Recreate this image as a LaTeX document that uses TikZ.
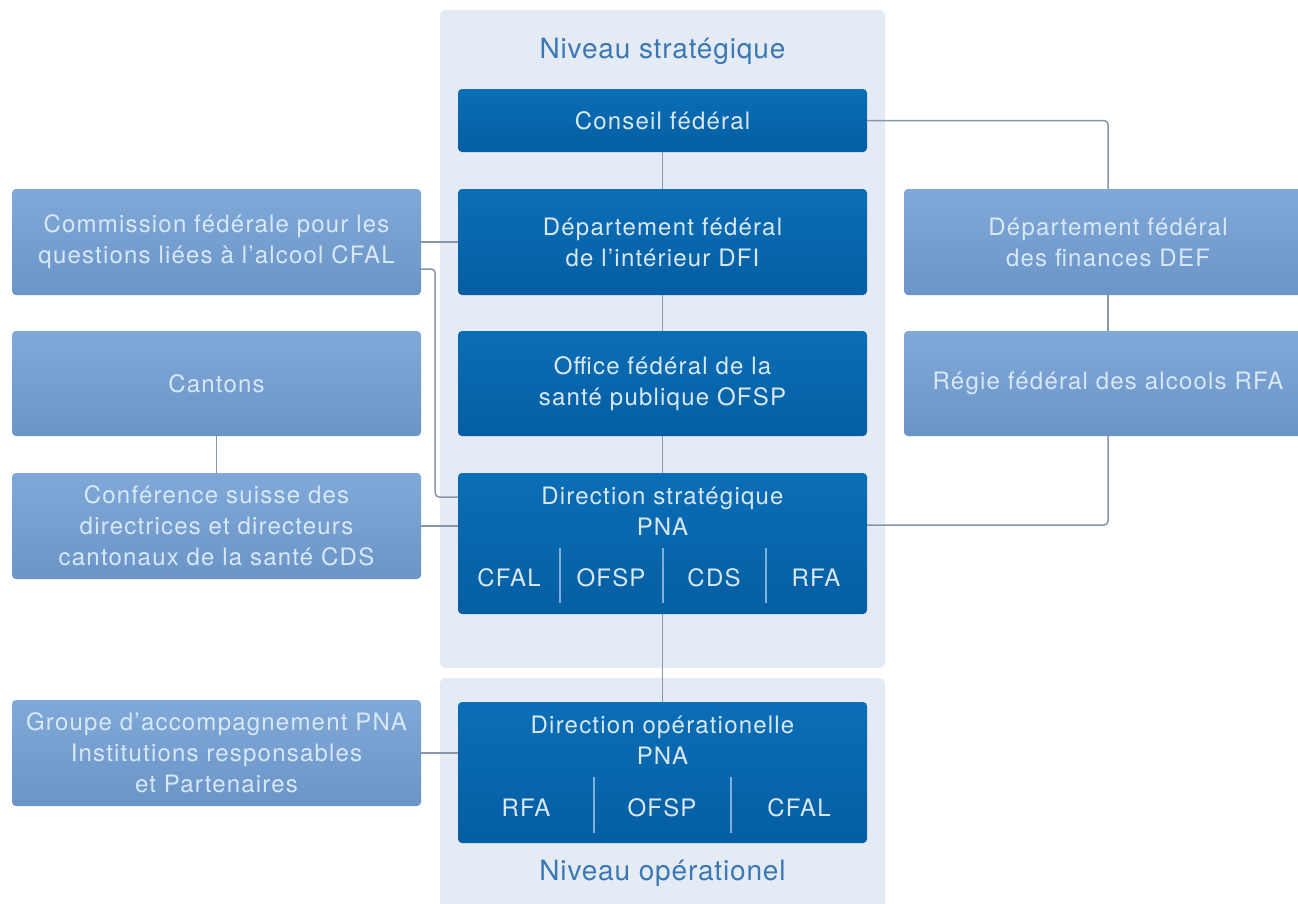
\documentclass[tikz,border=0pt]{standalone}
\usepackage{fontspec}
\setmainfont[LetterSpace=5]{TeX Gyre Heros}
\newfontfamily\levelfont[LetterSpace=3]{TeX Gyre Heros}
\definecolor{panelbg}{HTML}{E4EBF5}
\definecolor{darktop}{HTML}{0B6EB6}
\definecolor{darkbot}{HTML}{055EA2}
\definecolor{lighttop}{HTML}{80A9D9}
\definecolor{lightbot}{HTML}{6B95C7}
\definecolor{linkgray}{HTML}{8797AA}
\definecolor{boxtext}{HTML}{D8E8F7}
\definecolor{leveltext}{HTML}{3A78B5}
\definecolor{divider}{HTML}{7FB0DC}

\begin{document}
\begin{tikzpicture}[x=1pt,y=-1pt,
    panel/.style={fill=panelbg, rounded corners=5pt},
    darkbox/.style={rounded corners=4pt, top color=darktop, bottom color=darkbot, minimum width=409pt, inner sep=0pt, text=boxtext, align=center, font=\fontsize{24}{31}\selectfont},
    lightbox/.style={rounded corners=4pt, top color=lighttop, bottom color=lightbot, minimum width=409pt, inner sep=0pt, text=boxtext, align=center, font=\fontsize{24}{31}\selectfont},
    boxlabel/.style={text=boxtext, align=center, inner sep=0pt, font=\fontsize{24}{31}\selectfont},
    level/.style={text=leveltext, anchor=base, inner sep=0pt, font=\levelfont\fontsize{28}{34}\selectfont},
    connector/.style={draw=linkgray, line width=1.5pt, rounded corners=4pt},
    divline/.style={draw=divider, line width=1.5pt}]
    \clip (0,0) rectangle (1298,903);
    \fill[white] (0,0) rectangle (1298,903);
    % level panels
    \fill[panel] (440,10) rectangle (885,668);
    \fill[panel] (440,678) rectangle (885,920);
    \node[level] (nivstrat) at (662.5,58) {Niveau stratégique};
    \node[level] (nivop) at (662.5,880) {Niveau opérationel};
    % centre column
    \node[darkbox, minimum height=63pt] (conseil) at (662.5,120.5) {Conseil fédéral};
    \node[darkbox, minimum height=106pt] (dfi) at (662.5,242) {Département fédéral\\de l’intérieur DFI};
    \node[darkbox, minimum height=105pt] (ofsp) at (662.5,383.5) {Office fédéral de la\\santé publique OFSP};
    \node[darkbox, minimum height=141pt] (dirstrat) at (662.5,543.5) {};
    \node[boxlabel] (dirstrattxt) at (662.5,511) {Direction stratégique\\PNA};
    \node[darkbox, minimum height=141pt] (dirop) at (662.5,772.5) {};
    \node[boxlabel] (diroptxt) at (662.5,740) {Direction opérationelle\\PNA};
    % members of the two directions
    \foreach \x/\name/\txt in {509/sa/CFAL, 611/sb/OFSP, 714/sc/CDS, 816/sd/RFA}
        \node[boxlabel] (\name) at (\x,578) {\txt};
    \foreach \x in {560,663,766}
        \draw[divline] (\x,548) -- (\x,603);
    \foreach \x/\name/\txt in {526/oa/RFA, 662/ob/OFSP, 799/oc/CFAL}
        \node[boxlabel] (\name) at (\x,808) {\txt};
    \foreach \x in {594,731}
        \draw[divline] (\x,777) -- (\x,833);
    % left column
    \node[lightbox, minimum height=106pt] (cfal) at (216.5,242) {Commission fédérale pour les\\questions liées à l’alcool CFAL};
    \node[lightbox, minimum height=105pt] (cantons) at (216.5,383.5) {Cantons};
    \node[lightbox, minimum height=106pt] (cds) at (216.5,526) {Conférence suisse des\\directrices et directeurs\\cantonaux de la santé CDS};
    \node[lightbox, minimum height=106pt] (groupe) at (216.5,753) {Groupe d’accompagnement PNA\\Institutions responsables\\et Partenaires};
    % right column
    \node[lightbox, minimum height=106pt, minimum width=408pt] (def) at (1108,242) {Département fédéral\\des finances DEF};
    \node[lightbox, minimum height=105pt, minimum width=408pt] (rfa) at (1108,383.5) {Régie fédéral des alcools RFA};
    % connectors
    \draw[connector] (conseil) -- (dfi);
    \draw[connector] (dfi) -- (ofsp);
    \draw[connector] (ofsp) -- (dirstrat);
    \draw[connector] (dirstrat) -- (dirop);
    \draw[connector] (conseil.east) -| (def.north);
    \draw[connector] (def) -- (rfa);
    \draw[connector] (rfa.south) |- ([yshift=18.5pt]dirstrat.east);
    \draw[connector] (cfal.east) -- (dfi.west);
    \draw[connector] ([yshift=-27pt]cfal.east) -- ++(14,0) |- ([yshift=46.5pt]dirstrat.west);
    \draw[connector] (cantons) -- (cds);
    \draw[connector] (cds.east) -- (cds.east -| dirstrat.west);
    \draw[connector] (groupe.east) -- (groupe.east -| dirop.west);
\end{tikzpicture}
\end{document}
